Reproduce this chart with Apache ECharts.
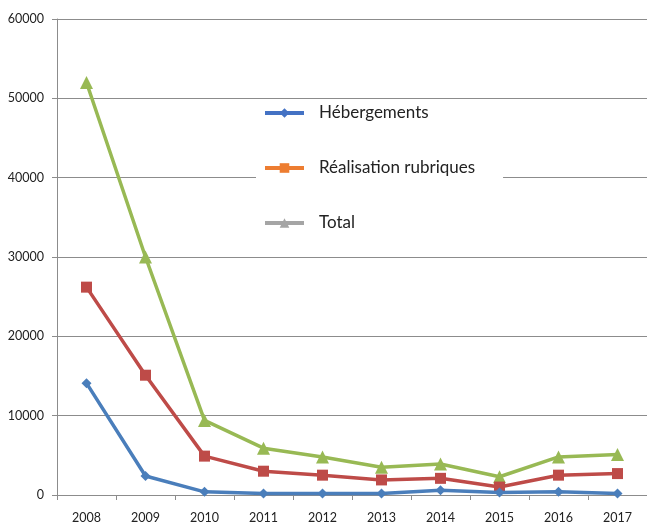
<!DOCTYPE html>
<html>
<head>
<meta charset="utf-8">
<script src="https://cdn.jsdelivr.net/npm/echarts@6/dist/echarts.min.js"></script>
<style>
  html, body { margin: 0; padding: 0; background: #fff; }
  #chart { width: 647px; height: 524px; }
</style>
</head>
<body>
<div id="chart"></div>
<script>
var years = ['2008', '2009', '2010', '2011', '2012', '2013', '2014', '2015', '2016', '2017'];
var hebergements = [14100, 2400, 400, 200, 200, 200, 600, 300, 400, 200];
var realisation = [26200, 15100, 4900, 3000, 2500, 1900, 2100, 1000, 2500, 2700];
var total = [52000, 30000, 9400, 5900, 4800, 3500, 3900, 2300, 4800, 5100];

var myChart = echarts.init(document.getElementById('chart'));

var gridGrey = '#8c8c8c';
var font = 'Lato';

myChart.setOption({
    animation: false,
    backgroundColor: '#fff',
    grid: { left: 57, right: -10, top: 19, bottom: 29 },
    legend: {
        orient: 'vertical',
        left: 256,
        top: 100,
        padding: [3, 28, 20, 7],
        backgroundColor: '#fff',
        itemWidth: 39,
        itemHeight: 12,
        itemGap: 35,
        textStyle: { fontFamily: font, fontSize: 17, color: '#222', lineHeight: 20, padding: [0, 0, 0, 10] },
        data: [
            { name: 'Hébergements', itemStyle: { color: '#4472c4' }, lineStyle: { color: '#4472c4', width: 4 } },
            { name: 'Réalisation rubriques', itemStyle: { color: '#ed7d31' }, lineStyle: { color: '#ed7d31', width: 4 } },
            { name: 'Total', itemStyle: { color: '#a5a5a5' }, lineStyle: { color: '#a5a5a5', width: 4 } }
        ]
    },
    xAxis: {
        type: 'category',
        data: years,
        boundaryGap: true,
        axisLine: { lineStyle: { color: gridGrey, width: 1 } },
        axisTick: { show: true, length: 5, lineStyle: { color: gridGrey } },
        axisLabel: { fontFamily: font, fontSize: 12.5, color: '#222', margin: 16 }
    },
    yAxis: {
        type: 'value',
        min: 0,
        max: 60000,
        interval: 10000,
        axisLine: { show: true, lineStyle: { color: gridGrey, width: 1 } },
        axisTick: { show: true, length: 5, lineStyle: { color: gridGrey } },
        axisLabel: {
            fontFamily: font, fontSize: 12.5, color: '#222', margin: 13,
            formatter: function (v) { return String(v); }
        },
        splitLine: { lineStyle: { color: gridGrey, width: 1 } }
    },
    series: [{
        name: 'Hébergements',
        type: 'line',
        data: hebergements,
        symbol: 'diamond',
        symbolSize: 10,
        itemStyle: { color: '#4a7ebb' },
        lineStyle: { color: '#4a7ebb', width: 3.5 },
        z: 4
    }, {
        name: 'Réalisation rubriques',
        type: 'line',
        data: realisation,
        symbol: 'rect',
        symbolSize: 11,
        itemStyle: { color: '#be4b48' },
        lineStyle: { color: '#be4b48', width: 3.5 },
        z: 3
    }, {
        name: 'Total',
        type: 'line',
        data: total,
        symbol: 'triangle',
        symbolSize: 13,
        itemStyle: { color: '#98b954' },
        lineStyle: { color: '#98b954', width: 3.5 },
        z: 2
    }]
});
</script>
</body>
</html>
